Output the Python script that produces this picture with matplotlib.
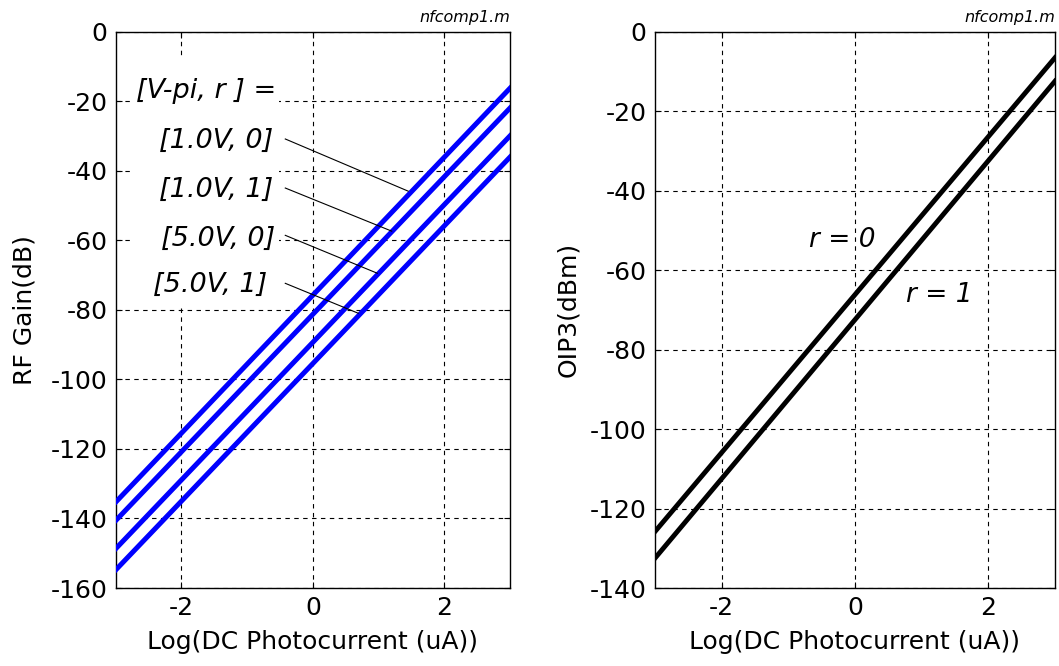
import matplotlib
matplotlib.use("Agg")
import matplotlib.pyplot as plt
from matplotlib.patches import Rectangle

plt.rcParams['font.family'] = ['DejaVu Sans']
plt.rcParams['axes.unicode_minus'] = False

# x range of the sweep (log10 of DC photocurrent in uA)
x_ends = [-3, 3]

# RF gain (dB) read at x = -3 and x = 3, one list per [V-pi, r] case
gain_1v_r0 = [-135.3, -16.3]
gain_1v_r1 = [-140.6, -22.0]
gain_5v_r0 = [-148.7, -30.0]
gain_5v_r1 = [-154.8, -36.1]
gain_series = [gain_1v_r0, gain_1v_r1, gain_5v_r0, gain_5v_r1]
gain_labels = ['[1.0V, 0]', '[1.0V, 1]', '[5.0V, 0]', '[5.0V, 1]']

# OIP3 (dBm) read at x = -3 and x = 3
oip3_r0 = [-125.8, -6.6]
oip3_r1 = [-132.5, -12.5]

# leader lines from the labels to the curves (data coords)
leader_x = [[-0.42, 1.45], [-0.42, 1.2], [-0.42, 0.98], [-0.42, 0.69]]
leader_y = [[-30.9, -45.9], [-45.0, -57.4], [-58.6, -69.5], [-72.4, -81.0]]
label_x = [-0.6, -0.6, -0.58, -0.7]
label_y = [-31.5, -45.5, -59.5, -73.0]

FS = 18
TFS = 19.5
grid_style = dict(color='k', linestyle=(0, (4, 4)), linewidth=0.8)


def style_axes(ax):
    ax.grid(True, **grid_style)
    ax.set_axisbelow(True)
    ax.tick_params(direction='in', length=4, width=0.8, labelsize=FS, pad=6,
                   top=True, right=True)
    for s in ax.spines.values():
        s.set_linewidth(1.0)
    ax.set_xlim(-3, 3)
    ax.set_xticks([-2, 0, 2])
    ax.text(1.0, 1.012, 'nfcomp1.m', transform=ax.transAxes, ha='right',
            va='bottom', fontsize=11.5, style='italic')


fig = plt.figure(figsize=(10.59, 6.66), dpi=100)
ax1 = fig.add_axes([0.1093, 0.1171, 0.3723, 0.8356])
ax2 = fig.add_axes([0.6185, 0.1171, 0.3777, 0.8356])

# left panel: RF gain
for g in gain_series:
    ax1.plot(x_ends, g, color='#0000ff', linewidth=3.6, zorder=3)
ax1.set_ylim(-160, 0)
ax1.set_yticks(range(-160, 1, 20))
style_axes(ax1)
ax1.set_ylabel('RF Gain(dB)', fontsize=FS)
ax1.yaxis.set_label_coords(-0.20, 0.5)
ax1.set_xlabel('Log(DC Photocurrent (uA))', fontsize=FS)
ax1.xaxis.set_label_coords(0.5, -0.075)

# white panel behind the label block (hides the grid)
ax1.add_patch(Rectangle((-2.74, -79.5), 2.22, 72.0, facecolor='white',
                        edgecolor='none', zorder=2.5))
ax1.text(-0.55, -17.0, '[V-pi, r ] =', ha='right', va='center', fontsize=TFS,
         style='italic', zorder=4)
for lab, xx, yy in zip(gain_labels, label_x, label_y):
    ax1.text(xx, yy, lab, ha='right', va='center', fontsize=TFS,
             style='italic', zorder=4)
for lx, ly in zip(leader_x, leader_y):
    ax1.plot(lx, ly, color='k', linewidth=0.8, zorder=5)

# right panel: OIP3
ax2.plot(x_ends, oip3_r0, color='k', linewidth=3.5, zorder=3)
ax2.plot(x_ends, oip3_r1, color='k', linewidth=3.5, zorder=3)
ax2.set_ylim(-140, 0)
ax2.set_yticks(range(-140, 1, 20))
style_axes(ax2)
ax2.set_ylabel('OIP3(dBm)', fontsize=FS)
ax2.yaxis.set_label_coords(-0.1875, 0.5)
ax2.set_xlabel('Log(DC Photocurrent (uA))', fontsize=FS)
ax2.xaxis.set_label_coords(0.5, -0.075)
ax2.text(-0.19, -52.4, 'r = 0', ha='center', va='center', fontsize=19,
         style='italic')
ax2.text(1.27, -66.2, 'r = 1', ha='center', va='center', fontsize=19,
         style='italic')

fig.savefig('out.png', dpi=100)
